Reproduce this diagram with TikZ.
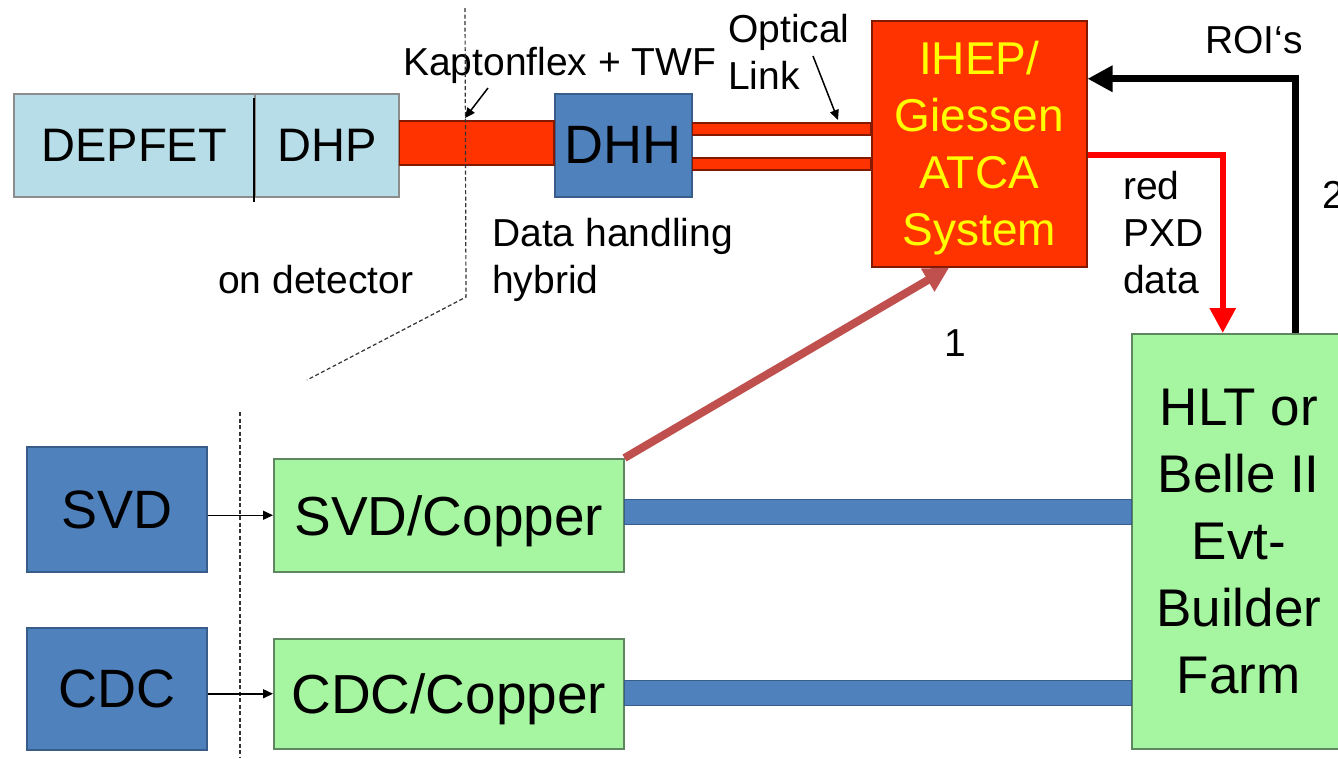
\documentclass[tikz,border=0pt]{standalone}
\usepackage{fontspec}
\setmainfont{Liberation Sans}
\usetikzlibrary{arrows.meta,positioning}

\definecolor{pxdcyan}{RGB}{183,222,232}
\definecolor{flexred}{RGB}{255,51,0}
\definecolor{edgered}{RGB}{130,25,0}
\definecolor{boxblue}{RGB}{79,129,189}
\definecolor{edgeblue}{RGB}{56,93,138}
\definecolor{farmgreen}{RGB}{166,245,160}
\definecolor{edgegreen}{RGB}{95,135,95}
\definecolor{linkbrown}{RGB}{192,80,77}
\definecolor{atcayellow}{RGB}{255,255,0}

\begin{document}
\begin{tikzpicture}
%Readout chain of the pixel detector
	[
	 x=1pt, y=-1pt,
	 %Styles
	 inner sep=0pt,
	 pxd_node/.style={rectangle,draw=black!45,fill=pxdcyan,line width=1.5pt,text depth=0pt,font=\fontsize{47}{56}\selectfont},
	 blue_node/.style={rectangle,draw=edgeblue,fill=boxblue,line width=1.5pt,text depth=0pt,font=\fontsize{54}{64}\selectfont},
	 green_node/.style={rectangle,draw=edgegreen,fill=farmgreen,line width=1.5pt,text depth=0pt,font=\fontsize{55}{66}\selectfont},
	 atca_node/.style={rectangle,draw=edgered,fill=flexred,line width=1.5pt,text=atcayellow,align=center,text depth=0pt,font=\fontsize{46}{57}\selectfont},
	 farm_node/.style={green_node,align=center,font=\fontsize{53}{67}\selectfont},
	 label_simple/.style={rectangle,font=\fontsize{39}{47}\selectfont},
	 flex_band/.style={draw=edgered,fill=flexred,line width=1.5pt},
	 data_bar/.style={draw=edgeblue,fill=boxblue,line width=1pt},
	 thin_arrow/.style={-{Triangle[length=10pt,width=9pt]},line width=1.5pt},
	 fat_arrow/.style={-{Triangle[length=25pt,width=25pt]}},
	 cut_line/.style={draw=black!80,line width=1.2pt,dash pattern=on 4pt off 2.5pt}
	]

	\useasboundingbox (0,0) rectangle (1338,758);

	%Node placement
	\node[pxd_node, anchor=north west, minimum width=241pt, minimum height=103pt] (depfet) at (13,93) {DEPFET};
	\node[pxd_node, anchor=north west, minimum width=144pt, minimum height=103pt] (dhp) at (254,93) {DHP};
	\node[blue_node, anchor=north west, minimum width=137pt, minimum height=103pt] (dhh) at (554,93) {DHH};
	\node[atca_node, anchor=north west, minimum width=215pt, minimum height=246pt] (atca) at (871,20) {IHEP/\\Giessen\\ATCA\\System};
	\node[farm_node, anchor=north west, minimum width=214pt, minimum height=415pt] (hlt) at (1131,333) {HLT or\\Belle II\\Evt-\\Builder\\Farm};
	\node[blue_node, anchor=north west, minimum width=180pt, minimum height=125pt] (svd) at (26,446) {SVD};
	\node[blue_node, anchor=north west, minimum width=180pt, minimum height=122pt] (cdc) at (26,627) {CDC};
	\node[green_node, anchor=north west, minimum width=350pt, minimum height=113pt] (svdcu) at (273,458) {SVD/Copper};
	\node[green_node, anchor=north west, minimum width=350pt, minimum height=110pt] (cdccu) at (273,638) {CDC/Copper};

	%Labels
	\node[label_simple, anchor=base west] (kapton) at (403,75) {Kaptonflex + TWF};
	\node[label_simple, anchor=north west, align=left] (optical) at (728,14) {Optical\\Link};
	\node[label_simple, anchor=north west, align=left] (hybrid) at (492,218) {Data handling\\hybrid};
	\node[label_simple, anchor=base west] (ondet) at (218,293) {on detector};
	\node[label_simple, anchor=north west, align=left] (reddata) at (1123,171) {red\\PXD\\data};
	\node[label_simple, anchor=base west] (rois) at (1205,53) {ROI‘s};
	\node[label_simple] (one) at (955,343) {1};
	\node[label_simple, anchor=west] (two) at (1322,195) {2};

	%Divider inside the module
	\draw[line width=1.5pt] ([yshift=-5pt]dhp.north west) -- ([yshift=-4pt]dhp.south west);

	%Cables and links
	\draw[flex_band] ([yshift=24.5pt]dhp.east) rectangle ([yshift=-19.5pt]dhh.west);
	\draw[flex_band] ([yshift=22.5pt]dhh.east) rectangle ([yshift=10.5pt]dhh.east -| atca.west);
	\draw[flex_band] ([yshift=-12.5pt]dhh.east) rectangle ([yshift=-24.5pt]dhh.east -| atca.west);
	\draw[data_bar] ([yshift=16pt]svdcu.east) rectangle ([yshift=-9pt]svdcu.east -| hlt.west);
	\draw[data_bar] ([yshift=13pt]cdccu.east) rectangle ([yshift=-12pt]cdccu.east -| hlt.west);

	%Boundary of the detector
	\coordinate (cut_top) at (465,8);
	\coordinate (cut_mid) at (466,297);
	\coordinate (cut_end) at (307,380);
	\coordinate (cut2_top) at (240,412);
	\coordinate (cut2_end) at (240,758);
	\draw[cut_line] (cut_top) -- (cut_mid) -- (cut_end);
	\draw[cut_line] (cut2_top) -- (cut2_end);

	%Pointers of the labels
	\coordinate (kapton_tail) at (488,88);
	\coordinate (kapton_head) at (465,118);
	\coordinate (optical_tail) at (813,56);
	\coordinate (optical_head) at (838,120);
	\draw[thin_arrow] (kapton_tail) -- (kapton_head);
	\draw[thin_arrow] (optical_tail) -- (optical_head);

	%Edges
	\draw[thin_arrow] (svdcu.west -| svd.east) -- (svdcu.west);
	\draw[thin_arrow] (cdccu.west -| cdc.east) -- (cdccu.west);
	\draw[fat_arrow, draw=linkbrown, line width=8pt] (svdcu.north east) -- ([xshift=-30pt]atca.south);
	\draw[fat_arrow, draw=red, line width=6pt] ([yshift=-11pt]atca.east) -| ([xshift=-16pt]hlt.north);
	\draw[fat_arrow, draw=black, line width=7pt] ([xshift=57pt]hlt.north) |- ([yshift=65pt]atca.east);
\end{tikzpicture}
\end{document}
